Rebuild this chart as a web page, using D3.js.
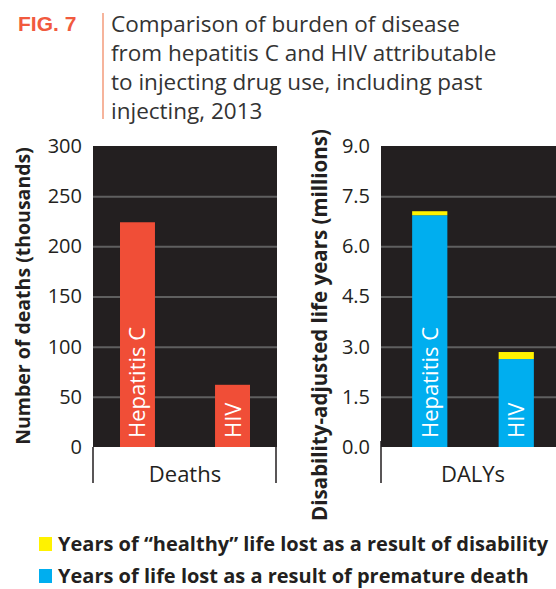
<!DOCTYPE html>
<html>
<head>
<meta charset="utf-8">
<script src="https://cdn.jsdelivr.net/npm/d3@7"></script>
<style>
  body { margin: 0; background: #fff; }
  svg { display: block; font-family: 'Open Sans', sans-serif; }
</style>
</head>
<body>
<div id="chart"></div>
<script>
const width = 556, height = 589;

// data
const causes = ['Hepatitis C', 'HIV'];
const deaths = [224, 62];             // thousands
const dalyYll = [6.93, 2.63];         // millions, premature death
const dalyYld = [0.12, 0.21];         // millions, disability
const deathTicks = [0, 50, 100, 150, 200, 250, 300];
const dalyTicks = [0, 1.5, 3.0, 4.5, 6.0, 7.5, 9.0];
const titleLines = [
  'Comparison of burden of disease',
  'from hepatitis C and HIV attributable',
  'to injecting drug use, including past',
  'injecting, 2013'
];
const legendLabels = [
  'Years of \u201chealthy\u201d life lost as a result of disability',
  'Years of life lost as a result of premature death'
];

const red = '#f04e37', blue = '#00aeef', yellow = '#fff200';
const dark = '#231f20', grid = '#5f5f5f', ink = '#231f20';

const svg = d3.select('#chart')
    .append('svg')
    .attr('width', width)
    .attr('height', height);

// title
svg.append('text')
    .attr('x', 18)
    .attr('y', 31)
    .style('font-family', "'Liberation Sans', Arial, sans-serif")
    .style('font-weight', 'bold')
    .style('font-size', '21px')
    .attr('fill', '#f15a3e')
    .text('FIG. 7');

svg.append('line')
    .attr('x1', 103).attr('x2', 103)
    .attr('y1', 13).attr('y2', 119)
    .attr('stroke', '#f6b49c')
    .attr('stroke-width', 2);

svg.append('g')
    .selectAll('text')
    .data(titleLines)
    .enter()
    .append('text')
    .attr('x', 111)
    .attr('y', (d, i) => 32 + i * 29)
    .style('font-size', '22.5px')
    .attr('fill', '#333')
    .text(d => d);

const plotTop = 146, plotBottom = 447;

function panel(opts) {
    const g = svg.append('g');
    const x = d3.scaleBand()
        .domain(causes)
        .range([opts.x0, opts.x1])
        .paddingInner(opts.pi)
        .paddingOuter(opts.po);
    const y = d3.scaleLinear()
        .domain(opts.domain)
        .range([plotBottom, plotTop]);

    g.append('rect')
        .attr('x', opts.x0)
        .attr('y', plotTop)
        .attr('width', opts.x1 - opts.x0)
        .attr('height', plotBottom - plotTop)
        .attr('fill', dark);

    const yAxis = d3.axisLeft(y)
        .tickValues(opts.ticks)
        .tickSize(-(opts.x1 - opts.x0))
        .tickPadding(11)
        .tickFormat(opts.fmt);

    const ax = g.append('g')
        .attr('transform', `translate(${opts.x0},0)`)
        .call(yAxis);
    ax.select('.domain').remove();
    ax.selectAll('.tick line')
        .attr('stroke', grid)
        .attr('stroke-width', 2)
        .filter(d => d === opts.domain[0] || d === opts.domain[1])
        .remove();
    ax.selectAll('.tick text')
        .style('font-size', '20px')
        .style('font-family', "'Open Sans', sans-serif")
        .attr('fill', ink);

    // category bracket below the plot
    g.append('path')
        .attr('d', `M${opts.x0},${plotBottom - opts.lineUp}V483M${opts.x1 - 1},${plotBottom}V483`)
        .attr('stroke', ink)
        .attr('stroke-width', 1.5)
        .attr('fill', 'none');
    g.append('text')
        .attr('x', (opts.x0 + opts.x1) / 2)
        .attr('y', 482)
        .attr('text-anchor', 'middle')
        .style('font-size', '22px')
        .attr('fill', ink)
        .text(opts.category);

    g.append('text')
        .attr('transform', `translate(${opts.titleX},${opts.titleY}) rotate(-90)`)
        .attr('text-anchor', 'middle')
        .style('font-size', opts.titleSize)
        .style('font-weight', 'bold')
        .attr('fill', ink)
        .text(opts.title);

    return {g, x, y};
}

// left panel: deaths
const left = panel({
    x0: 93, x1: 277, pi: 0.632, po: 0.284,
    domain: [0, 300], ticks: deathTicks, fmt: d3.format('d'),
    category: 'Deaths', lineUp: 0,
    title: 'Number of deaths (thousands)', titleX: 30, titleY: 296, titleSize: '19.5px'
});

left.g.selectAll('.bar')
    .data(causes)
    .enter()
    .append('rect')
    .attr('class', 'bar')
    .attr('x', d => left.x(d))
    .attr('width', left.x.bandwidth())
    .attr('y', (d, i) => left.y(deaths[i]))
    .attr('height', (d, i) => plotBottom - left.y(deaths[i]))
    .attr('fill', red);

left.g.selectAll('.blabel')
    .data(causes)
    .enter()
    .append('text')
    .attr('class', 'blabel')
    .attr('transform', d => `translate(${left.x(d) + left.x.bandwidth() / 2 + 8},${plotBottom - 9}) rotate(-90)`)
    .style('font-size', '22px')
    .attr('fill', '#fff')
    .text(d => d);

// right panel: DALYs
const right = panel({
    x0: 381, x1: 565, pi: 0.593, po: 0.36,
    domain: [0, 9], ticks: dalyTicks, fmt: d3.format('.1f'),
    category: 'DALYs', lineUp: 6,
    title: 'Disability-adjusted life years (millions)', titleX: 327, titleY: 325, titleSize: '20.5px'
});

const stacked = causes.map((c, i) => ({cause: c, yll: dalyYll[i], yld: dalyYld[i]}));
const series = d3.stack().keys(['yll', 'yld'])(stacked);
const colors = {yll: blue, yld: yellow};

right.g.selectAll('.layer')
    .data(series)
    .enter()
    .append('g')
    .attr('fill', d => colors[d.key])
    .selectAll('rect')
    .data(d => d)
    .enter()
    .append('rect')
    .attr('x', d => right.x(d.data.cause))
    .attr('width', right.x.bandwidth())
    .attr('y', d => right.y(d[1]))
    .attr('height', d => right.y(d[0]) - right.y(d[1]));

right.g.selectAll('.blabel')
    .data(causes)
    .enter()
    .append('text')
    .attr('class', 'blabel')
    .attr('transform', d => `translate(${right.x(d) + right.x.bandwidth() / 2 + 8},${plotBottom - 9}) rotate(-90)`)
    .style('font-size', '22px')
    .attr('fill', '#fff')
    .text(d => d);

// legend
const legend = svg.append('g')
    .selectAll('g')
    .data(legendLabels)
    .enter()
    .append('g')
    .attr('transform', (d, i) => `translate(39,${537 + i * 32})`);

legend.append('rect')
    .attr('width', 13)
    .attr('height', 14)
    .attr('fill', (d, i) => i === 0 ? yellow : blue);

legend.append('text')
    .attr('x', 19)
    .attr('y', 14)
    .style('font-size', '20px')
    .style('font-weight', 'bold')
    .attr('fill', ink)
    .text(d => d);
</script>
</body>
</html>
